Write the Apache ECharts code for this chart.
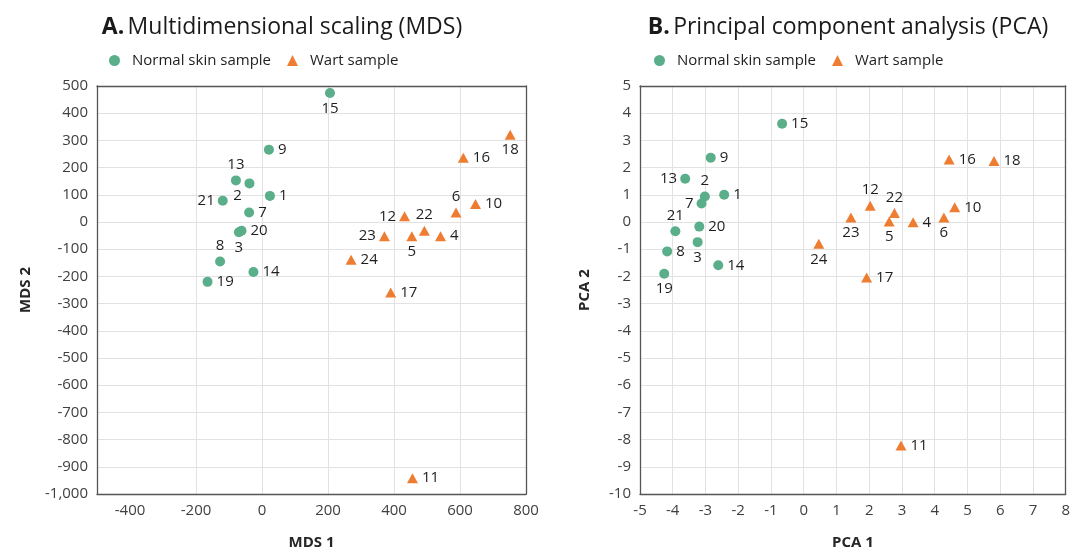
<!DOCTYPE html>
<html>
<head>
<meta charset="utf-8">
<script src="https://cdn.jsdelivr.net/npm/echarts@6/dist/echarts.min.js"></script>
<style>
html,body{margin:0;padding:0;background:#fff;}
#chart{width:1073px;height:555px;}
</style>
</head>
<body>
<div id="chart"></div>
<script>
// ---- Data ----
const normalIds = [1, 2, 3, 7, 8, 9, 13, 14, 15, 19, 20, 21];
const wartIds   = [4, 5, 6, 10, 11, 12, 16, 17, 18, 22, 23, 24];

const mdsNormalX = [24, -38, -70, -39, -127, 21, -79, -26, 206, -165, -62, -119];
const mdsNormalY = [96, 142, -38, 35, -145, 266, 153, -184, 474, -220, -32, 78];
const mdsWartX   = [541, 454, 588, 647, 456, 432, 610, 390, 752, 492, 371, 270];
const mdsWartY   = [-52, -52, 35, 66, -942, 21, 236, -259, 321, -32, -52, -139];

const pcaNormalX = [-2.43, -3.02, -3.24, -3.12, -4.17, -2.84, -3.62, -2.61, -0.66, -4.26, -3.19, -3.92];
const pcaNormalY = [1.0, 0.94, -0.74, 0.68, -1.08, 2.36, 1.59, -1.59, 3.61, -1.90, -0.17, -0.34];
const pcaWartX   = [3.34, 2.61, 4.28, 4.61, 2.97, 2.03, 4.44, 1.92, 5.81, 2.77, 1.44, 0.46];
const pcaWartY   = [-0.01, 0.02, 0.17, 0.54, -8.22, 0.60, 2.30, -2.04, 2.24, 0.33, 0.17, -0.80];

const mdsXTicks = [-400, -200, 0, 200, 400, 600, 800];

const seriesNames = ['Normal skin sample', 'Wart sample'];

// ---- Styling: label placement per sample id ----
const mdsLabelPos = {
  13: 'top', 8: 'top', 6: 'top', 22: 'top',
  21: 'left', 12: 'left', 23: 'left',
  3: 'bottom', 15: 'bottom', 18: 'bottom', 5: 'bottom', 2: 'bottomleft'
};
const pcaLabelPos = {
  13: 'left', 7: 'left',
  2: 'top', 21: 'top', 12: 'top', 22: 'top',
  3: 'bottom', 19: 'bottom', 5: 'bottom', 23: 'bottom', 6: 'bottom', 24: 'bottom'
};

const FONT = 'Open Sans';
const GREEN = '#5aae8a';
const ORANGE = '#ee7d31';
const TXT = '#1e1e1e';
const TICK = '#404040';
const BORDER = '#555555';

function labelFor(pos) {
  if (pos === 'bottomleft') return {position: 'bottom', distance: 0, offset: [-12, 0]};
  if (!pos) return {position: 'right', distance: 4};
  return {position: pos, distance: 3};
}

function buildData(ids, xs, ys, posMap) {
  return ids.map((id, i) => ({
    value: [xs[i], ys[i], id],
    label: labelFor(posMap[id])
  }));
}

const baseLabel = {
  show: true,
  formatter: p => String(p.value[2]),
  color: TXT,
  fontFamily: FONT,
  fontSize: 15
};

function scatter(name, data, xi, color, symbol, size) {
  return {
    name: name,
    type: 'scatter',
    xAxisIndex: xi,
    yAxisIndex: xi,
    symbol: symbol,
    symbolSize: size,
    itemStyle: {color: color, opacity: 1},
    label: baseLabel,
    data: data,
    z: 3
  };
}

function axisCommon() {
  return {
    axisLine: {show: true, onZero: false, lineStyle: {color: BORDER, width: 1.3}},
    axisTick: {show: false},
    axisLabel: {color: TICK, fontFamily: FONT, fontSize: 15, margin: 9},
    splitLine: {show: true, showMinLine: false, showMaxLine: false, lineStyle: {color: '#e2e2e2', width: 1}},
    nameLocation: 'middle',
    nameTextStyle: {color: '#262626', fontFamily: FONT, fontSize: 15, fontWeight: 'bold'}
  };
}

// frame-only axes for the top/right borders of each plot
function frameAxis(gridIndex, position, min, max) {
  return {
    gridIndex: gridIndex, type: 'value', position: position, min: min, max: max,
    axisLine: {show: true, onZero: false, lineStyle: {color: BORDER, width: 1.3}},
    axisTick: {show: false}, axisLabel: {show: false}, splitLine: {show: false}
  };
}

const fmtThousands = v => v.toLocaleString('en-US');

const option = {
  backgroundColor: '#ffffff',
  animation: false,
  textStyle: {fontFamily: FONT},
  graphic: [
    {
      type: 'text', x: 282, y: 27,
      style: {
        text: '{b|A.} {n|Multidimensional scaling (MDS)}',
        rich: {
          b: {fontFamily: FONT, fontSize: 23, fontWeight: 'bold', fill: '#1a1a1a'},
          n: {fontFamily: FONT, fontSize: 23, fill: '#1a1a1a'}
        },
        textAlign: 'center', textVerticalAlign: 'middle'
      }
    },
    {
      type: 'text', x: 848, y: 27,
      style: {
        text: '{b|B.} {n|Principal component analysis (PCA)}',
        rich: {
          b: {fontFamily: FONT, fontSize: 23, fontWeight: 'bold', fill: '#1a1a1a'},
          n: {fontFamily: FONT, fontSize: 23, fill: '#1a1a1a'}
        },
        textAlign: 'center', textVerticalAlign: 'middle'
      }
    }
  ],
  legend: [
    {
      left: 109, top: 53, padding: 0, itemGap: 16, itemWidth: 11, itemHeight: 11,
      data: [{name: seriesNames[0], icon: 'circle'}, {name: seriesNames[1], icon: 'triangle'}],
      textStyle: {color: TXT, fontFamily: FONT, fontSize: 15, padding: [0, 0, 0, 7]},
      selectedMode: false
    },
    {
      left: 654, top: 53, padding: 0, itemGap: 16, itemWidth: 11, itemHeight: 11,
      data: [{name: seriesNames[0], icon: 'circle'}, {name: seriesNames[1], icon: 'triangle'}],
      textStyle: {color: TXT, fontFamily: FONT, fontSize: 15, padding: [0, 0, 0, 7]},
      selectedMode: false
    }
  ],
  grid: [
    {left: 97, top: 86, width: 429, height: 412},
    {left: 640, top: 86, width: 428, height: 412}
  ],
  xAxis: [
    Object.assign(axisCommon(), {
      gridIndex: 0, type: 'value', min: -500, max: 800, position: 'bottom',
      name: 'MDS 1', nameGap: 41,
      axisLabel: {color: TICK, fontFamily: FONT, fontSize: 15, margin: 9, customValues: mdsXTicks},
      axisTick: {show: false, customValues: mdsXTicks}
    }),
    Object.assign(axisCommon(), {
      gridIndex: 1, type: 'value', min: -5, max: 8, interval: 1, position: 'bottom',
      name: 'PCA 1', nameGap: 41
    }),
    frameAxis(0, 'top', -500, 800),
    frameAxis(1, 'top', -5, 8)
  ],
  yAxis: [
    Object.assign(axisCommon(), {
      gridIndex: 0, type: 'value', min: -1000, max: 500, interval: 100, position: 'left',
      name: 'MDS 2', nameGap: 64,
      axisLabel: {color: TICK, fontFamily: FONT, fontSize: 15, margin: 9, formatter: fmtThousands}
    }),
    Object.assign(axisCommon(), {
      gridIndex: 1, type: 'value', min: -10, max: 5, interval: 1, position: 'left',
      name: 'PCA 2', nameGap: 48
    }),
    frameAxis(0, 'right', -1000, 500),
    frameAxis(1, 'right', -10, 5)
  ],
  series: [
    scatter(seriesNames[0], buildData(normalIds, mdsNormalX, mdsNormalY, mdsLabelPos), 0, GREEN, 'circle', 10),
    scatter(seriesNames[1], buildData(wartIds, mdsWartX, mdsWartY, mdsLabelPos), 0, ORANGE, 'triangle', [11, 10]),
    scatter(seriesNames[0], buildData(normalIds, pcaNormalX, pcaNormalY, pcaLabelPos), 1, GREEN, 'circle', 10),
    scatter(seriesNames[1], buildData(wartIds, pcaWartX, pcaWartY, pcaLabelPos), 1, ORANGE, 'triangle', [11, 10])
  ]
};

const chart = echarts.init(document.getElementById('chart'), null, {renderer: 'canvas'});
chart.setOption(option);
</script>
</body>
</html>
